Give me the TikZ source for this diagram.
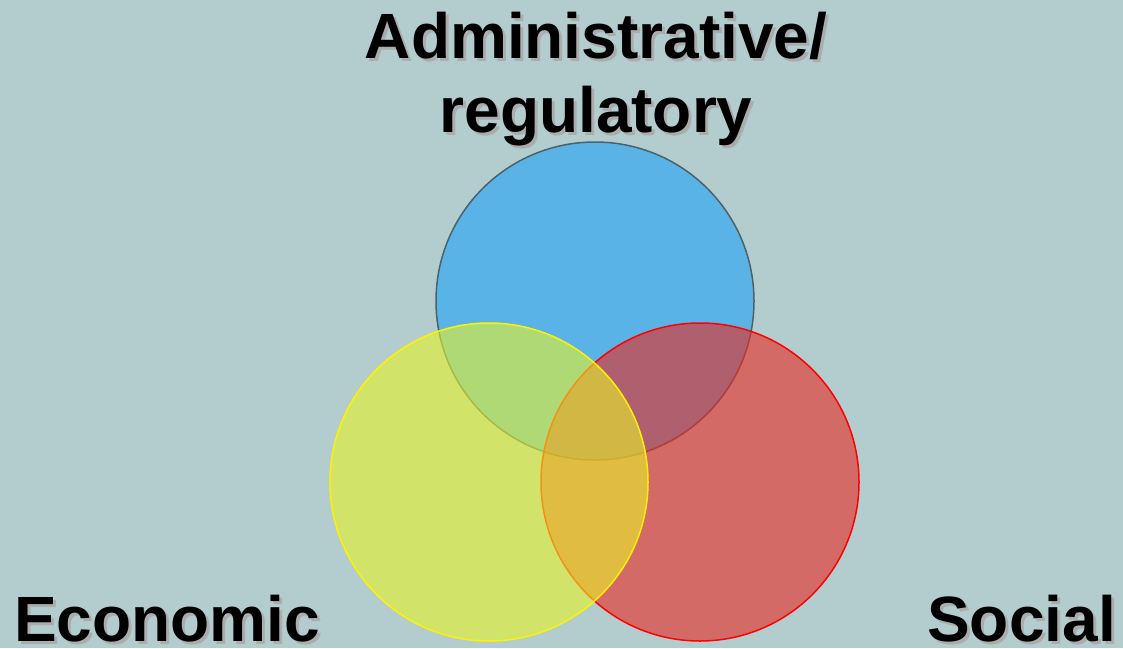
\documentclass[tikz,border=0pt]{standalone}
\usepackage{fontspec}
\setmainfont{Liberation Sans}
\usepackage{xcolor}

\definecolor{backdrop}{RGB}{179,205,207}
\definecolor{adminblue}{RGB}{90,179,230}
\definecolor{adminedge}{RGB}{77,98,104}
\definecolor{socialred}{RGB}{234,40,32}
\definecolor{econyellow}{RGB}{232,243,40}
\definecolor{textshade}{RGB}{172,172,172}

\tikzset{
  venn/.style={line width=1.5pt, fill opacity=0.6, draw opacity=1},
  areatext/.style={font=\fontsize{64}{74}\selectfont\bfseries, inner sep=0pt, align=center},
}

\begin{document}
\begin{tikzpicture}[x=1pt, y=-1pt] %pixel grid, y runs down
\fill [backdrop] (0,0) rectangle (1123,648);
\useasboundingbox (0,0) rectangle (1123,648);

\coordinate (admincentre) at (595,301);
\coordinate (econcentre) at (489,482);
\coordinate (socialcentre) at (700,482);

\filldraw [venn, fill=adminblue, fill opacity=1, draw=adminedge] (admincentre) circle [radius=159];
\filldraw [venn, fill=socialred, draw=red] (socialcentre) circle [radius=159];
\filldraw [venn, fill=econyellow, draw=yellow] (econcentre) circle [radius=159];

%grey copies first, for the shadow (base = last line)
\node [areatext, text=textshade, anchor=base] (adminshade) at (599,135) {Administrative/\\regulatory};
\node [areatext, text=textshade, anchor=base west] (econshade) at (17,644) {Economic};
\node [areatext, text=textshade, anchor=base east] (socialshade) at (1119,644) {Social};

\node [areatext, anchor=base] (admin) at (596,132) {Administrative/\\regulatory};
\node [areatext, anchor=base west] (econ) at (14,641) {Economic};
\node [areatext, anchor=base east] (social) at (1116,641) {Social};
\end{tikzpicture}
\end{document}
